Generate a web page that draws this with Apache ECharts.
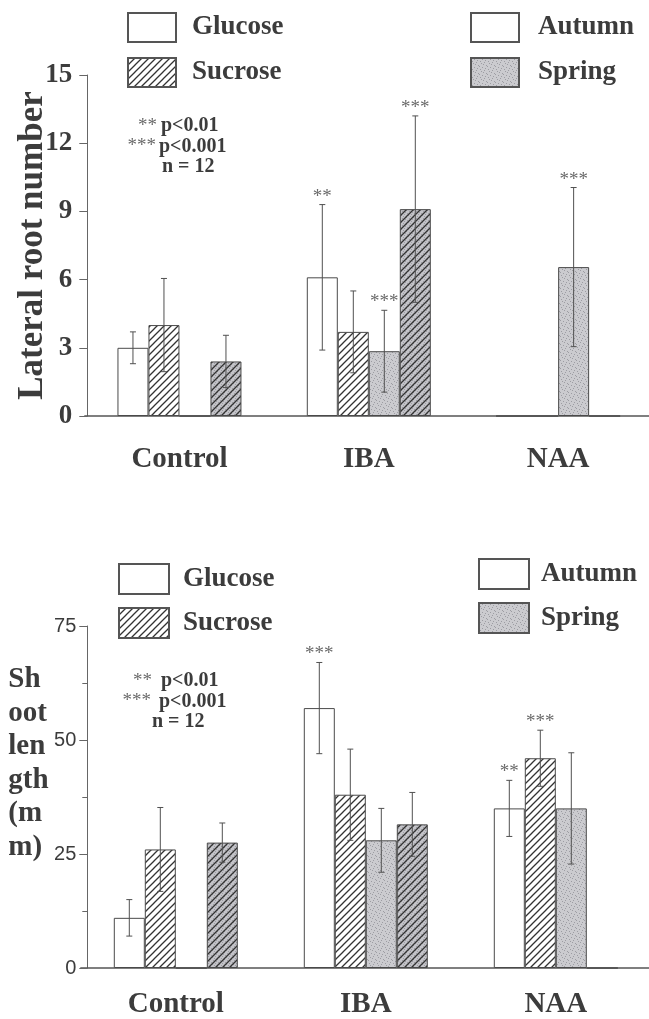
<!DOCTYPE html>
<html>
<head>
<meta charset="utf-8">
<script src="https://cdn.jsdelivr.net/npm/echarts@6/dist/echarts.min.js"></script>
<style>
html,body{margin:0;padding:0;background:#fff;}
#chart{width:649px;height:1019px;}
</style>
</head>
<body>
<div id="chart"></div>
<script>
// ---------- data ----------
const categories = ['Control', 'IBA', 'NAA'];
const legendSugar = ['Glucose', 'Sucrose'];
const legendSeason = ['Autumn', 'Spring'];

// Lateral root number (top panel)
const rootGlucAut = [3.0, 6.1, 0];
const rootSucAut = [4.0, 3.7, 0];
const rootGlucSpr = [0, 2.85, 6.55];
const rootSucSpr = [2.4, 9.1, 0];
const rootGlucAutErr = [0.7, 3.2, 0];
const rootSucAutErr = [2.05, 1.8, 0];
const rootGlucSprErr = [0, 1.8, 3.5];
const rootSucSprErr = [1.15, 4.1, 0];
const rootGlucAutSig = ['', '**', ''];
const rootSucAutSig = ['', '', ''];
const rootGlucSprSig = ['', '***', '***'];
const rootSucSprSig = ['', '***', ''];
const rootTicks = [0, 3, 6, 9, 12, 15];

// Shoot length (bottom panel)
const shootGlucAut = [11, 57, 35];
const shootSucAut = [26, 38, 46];
const shootGlucSpr = [0, 28, 35];
const shootSucSpr = [27.5, 31.5, 0];
const shootGlucAutErr = [4, 10, 6.15];
const shootSucAutErr = [9.2, 10, 6.15];
const shootGlucSprErr = [0, 7, 12.2];
const shootSucSprErr = [4.3, 7, 0];
const shootGlucAutSig = ['', '***', '**'];
const shootSucAutSig = ['', '', '***'];
const shootGlucSprSig = ['', '', ''];
const shootSucSprSig = ['', '', ''];
const shootTicks = [0, 25, 50, 75];

const noteStars = ['**', '***', ''];
const noteTexts = ['p<0.01', 'p<0.001', 'n = 12'];

// ---------- patterns ----------
function makeCanvas(w, h) { const c = document.createElement('canvas'); c.width = w; c.height = h; return c; }
function stipple(ctx, s, base) {
  ctx.fillStyle = base; ctx.fillRect(0, 0, s, s);
  ctx.fillStyle = '#9d9da3';
  const dots = [[0,0],[3,1],[5,4],[1,3],[4,6],[6,2],[2,5],[7,7]];
  dots.forEach(d => { if (d[0] < s && d[1] < s) ctx.fillRect(d[0], d[1], 1, 1); });
}
function hatch(ctx, s) {
  ctx.strokeStyle = '#333'; ctx.lineWidth = 1.3;
  ctx.beginPath();
  ctx.moveTo(-1, s + 1); ctx.lineTo(s + 1, -1);
  ctx.moveTo(-1, 1); ctx.lineTo(1, -1);
  ctx.moveTo(s - 1, s + 1); ctx.lineTo(s + 1, s - 1);
  ctx.stroke();
}
const S = 7;
const cHatch = makeCanvas(S, S); (function(){ const g = cHatch.getContext('2d'); g.fillStyle = '#fff'; g.fillRect(0,0,S,S); hatch(g, S); })();
const cGray = makeCanvas(8, 8); (function(){ const g = cGray.getContext('2d'); stipple(g, 8, '#cbcbcf'); })();
const cGrayHatch = makeCanvas(S, S); (function(){ const g = cGrayHatch.getContext('2d'); stipple(g, S, '#c3c3c8'); hatch(g, S); })();

const fillWhite = '#ffffff';
const fillHatch = { image: cHatch, repeat: 'repeat' };
const fillGray = { image: cGray, repeat: 'repeat' };
const fillGrayHatch = { image: cGrayHatch, repeat: 'repeat' };
const fills = [fillWhite, fillHatch, fillGray, fillGrayHatch];

const SERIF = '"Liberation Serif", "Times New Roman", serif';
const SANS = '"Liberation Sans", Arial, sans-serif';
const TXT = '#3c3c3c';
const BAR_W = 31;

// ---------- builders ----------
function barSeries(name, data, idx, axis) {
  return {
    type: 'bar', name: name, data: data, xAxisIndex: axis, yAxisIndex: axis,
    barWidth: BAR_W, barGap: '0%', z: 2,
    itemStyle: { color: fills[idx], borderColor: '#4a4a4a', borderWidth: 1 },
    emphasis: { disabled: true }
  };
}
function errorSeries(means, errs, sigs, axis) {
  const data = [], labels = [];
  for (let k = 0; k < means.length; k++) {
    for (let c = 0; c < categories.length; c++) {
      if (errs[k][c] > 0 || sigs[k][c]) {
        data.push([c, k, means[k][c], errs[k][c]]);
        labels.push(sigs[k][c]);
      }
    }
  }
  return {
    type: 'custom', xAxisIndex: axis, yAxisIndex: axis, z: 5, silent: true,
    data: data,
    renderItem: function (params, api) {
      const c = api.value(0), k = api.value(1), m = api.value(2), e = api.value(3);
      const x = api.coord([c, m])[0] + (k - 1.5) * BAR_W;
      const yT = api.coord([c, m + e])[1], yB = api.coord([c, m - e])[1];
      const ls = { stroke: '#505050', lineWidth: 1 };
      const kids = [
        { type: 'line', shape: { x1: x, y1: yT, x2: x, y2: yB }, style: ls },
        { type: 'line', shape: { x1: x - 3, y1: yT, x2: x + 3, y2: yT }, style: ls },
        { type: 'line', shape: { x1: x - 3, y1: yB, x2: x + 3, y2: yB }, style: ls }
      ];
      const s = labels[params.dataIndex];
      if (s) kids.push({ type: 'text', x: x, y: yT - 8,
        style: { text: s, font: '19px ' + SERIF, fill: '#6a6a6a', align: 'center', verticalAlign: 'middle' } });
      return { type: 'group', children: kids };
    }
  };
}
function legendSeries(name, idx) {
  return { type: 'bar', name: name, data: [], xAxisIndex: 2, yAxisIndex: 2,
    itemStyle: { color: fills[idx], borderColor: '#555', borderWidth: 1.3 } };
}
function legendBlock(names, left, top, w, h, gap, pad) {
  return { orient: 'vertical', left: left, top: top, padding: 0, itemWidth: w, itemHeight: h, itemGap: gap,
    selectedMode: false, icon: 'rect', data: names,
    textStyle: { fontFamily: SERIF, fontWeight: 'bold', fontSize: 27, color: TXT, padding: [0, 0, 0, pad] } };
}
function noteGraphics(y0, starRight, textLeft, nLeft) {
  const out = [];
  for (let i = 0; i < noteTexts.length; i++) {
    const y = y0 + i * 20.5;
    if (noteStars[i]) out.push({ type: 'text', x: starRight - (i === 1 ? 1 : 0), y: y,
      style: { text: noteStars[i], font: '19px ' + SERIF, fill: '#6a6a6a', align: 'right', textAlign: 'right', verticalAlign: 'middle', textVerticalAlign: 'middle' } });
    out.push({ type: 'text', x: noteStars[i] ? textLeft - (i === 1 ? 2 : 0) : nLeft, y: y,
      style: { text: noteTexts[i], font: 'bold 20px ' + SERIF, fill: TXT, align: 'left', textAlign: 'left', verticalAlign: 'middle', textVerticalAlign: 'middle' } });
  }
  return out;
}

const rootMeans = [rootGlucAut, rootSucAut, rootGlucSpr, rootSucSpr];
const rootErrs = [rootGlucAutErr, rootSucAutErr, rootGlucSprErr, rootSucSprErr];
const rootSigs = [rootGlucAutSig, rootSucAutSig, rootGlucSprSig, rootSucSprSig];
const shootMeans = [shootGlucAut, shootSucAut, shootGlucSpr, shootSucSpr];
const shootErrs = [shootGlucAutErr, shootSucAutErr, shootGlucSprErr, shootSucSprErr];
const shootSigs = [shootGlucAutSig, shootSucAutSig, shootGlucSprSig, shootSucSprSig];
const serNames = ['Glucose Autumn', 'Sucrose Autumn', 'Glucose Spring', 'Sucrose Spring'];

const xAxisCommon = (grid, margin) => ({
  type: 'category', gridIndex: grid, data: categories,
  axisLine: { lineStyle: { color: '#555', width: 1.5 } },
  axisTick: { show: false },
  axisLabel: { margin: margin, fontFamily: SERIF, fontWeight: 'bold', fontSize: 29, color: TXT }
});

const series = [];
rootMeans.forEach((d, i) => series.push(barSeries(serNames[i], d, i, 0)));
series.push(errorSeries(rootMeans, rootErrs, rootSigs, 0));
shootMeans.forEach((d, i) => series.push(barSeries(serNames[i] + ' ', d, i, 1)));
series.push(errorSeries(shootMeans, shootErrs, shootSigs, 1));
series.push(legendSeries('Glucose', 0), legendSeries('Sucrose', 1), legendSeries('Autumn', 0), legendSeries('Spring', 2));

const option = {
  backgroundColor: '#fff',
  animation: false,
  grid: [
    { left: 84.8, top: 75, width: 568, height: 341, outerBoundsMode: 'none', containLabel: false },
    { left: 80.8, top: 626, width: 570, height: 342, outerBoundsMode: 'none', containLabel: false },
    { left: -50, top: -50, width: 10, height: 10, show: false, outerBoundsMode: 'none' }
  ],
  xAxis: [
    xAxisCommon(0, 29),
    xAxisCommon(1, 22),
    { type: 'category', gridIndex: 2, data: ['x'], show: false }
  ],
  yAxis: [
    { type: 'value', gridIndex: 0, min: rootTicks[0], max: rootTicks[rootTicks.length - 1], interval: 3, offset: -2.5,
      name: 'Lateral root number', nameLocation: 'middle', nameGap: 37, nameMoveOverlap: false,
      nameTextStyle: { fontFamily: SERIF, fontWeight: 'bold', fontSize: 35, color: TXT },
      axisLine: { show: true, lineStyle: { color: '#666', width: 1 } },
      axisTick: { show: true, length: 8, lineStyle: { color: '#666' } },
      splitLine: { show: false },
      axisLabel: { margin: 15, fontFamily: SERIF, fontWeight: 'bold', fontSize: 27, color: TXT } },
    { type: 'value', gridIndex: 1, min: shootTicks[0], max: shootTicks[shootTicks.length - 1], interval: 25, offset: -6.5,
      name: 'Sh\noot\nlen\ngth\n(m\nm)\n\n', nameLocation: 'middle', nameRotate: 0, nameGap: 79, nameMoveOverlap: false,
      nameTextStyle: { fontFamily: SERIF, fontWeight: 'bold', fontSize: 29, lineHeight: 33.5, color: TXT, align: 'left' },
      axisLine: { show: true, lineStyle: { color: '#666', width: 1 } },
      axisTick: { show: true, length: 8, lineStyle: { color: '#666' } },
      minorTick: { show: true, splitNumber: 2, length: 5, lineStyle: { color: '#666' } },
      splitLine: { show: false },
      axisLabel: { margin: 11, fontFamily: SANS, fontSize: 20, color: TXT } },
    { type: 'value', gridIndex: 2, show: false }
  ],
  legend: [
    legendBlock(legendSugar, 127, 12, 48, 29, 14, 11),
    legendBlock(legendSeason, 470, 12, 48, 29, 14, 14),
    legendBlock(legendSugar, 118, 563, 50, 30, 12, 9),
    legendBlock(legendSeason, 478, 558, 50, 30, 12, 7)
  ],
  graphic: noteGraphics(126, 157, 161, 162).concat(noteGraphics(681, 152, 161, 152)),
  series: series
};

const chart = echarts.init(document.getElementById('chart'), null, { renderer: 'canvas' });
chart.setOption(option);
</script>
</body>
</html>
